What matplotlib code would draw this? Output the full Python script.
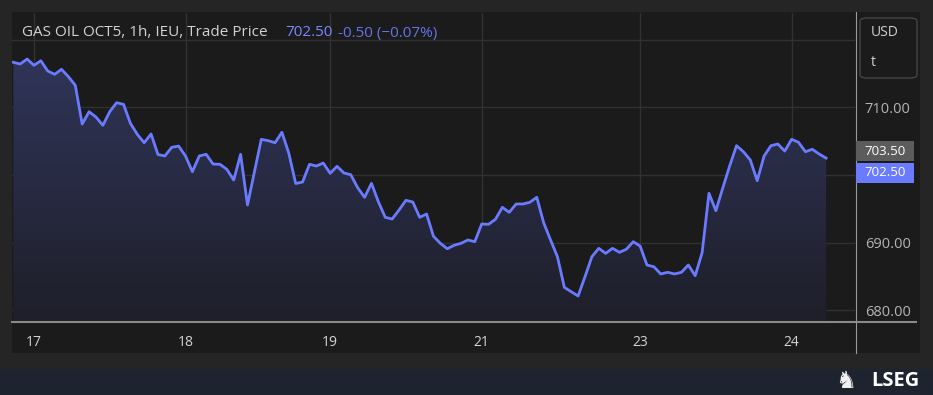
import matplotlib.pyplot as plt
import numpy as np
from matplotlib.patches import Rectangle, FancyBboxPatch
from matplotlib.lines import Line2D
from matplotlib.colors import LinearSegmentedColormap

# hourly trade prices, GAS OIL OCT5
prices = [716.65, 716.40, 717.13, 716.20, 716.88, 715.36, 714.87, 715.61, 714.52, 713.25,
          707.53, 709.35, 708.57, 707.34, 709.35, 710.68, 710.44, 707.64, 706.01, 704.77,
          706.06, 703.03, 702.81, 704.09, 704.28, 702.81, 700.49, 702.81, 703.06, 701.62,
          701.58, 700.84, 699.26, 703.06, 695.57, 700.44, 705.27, 705.07, 704.77, 706.31,
          703.21, 698.74, 698.97, 701.58, 701.33, 701.77, 700.25, 701.29, 700.30, 700.04,
          698.12, 696.71, 698.77, 696.06, 693.75, 693.50, 694.83, 696.26, 696.01, 693.75,
          694.24, 690.95, 689.91, 689.11, 689.62, 689.91, 690.40, 690.15, 692.76, 692.72,
          693.46, 695.23, 694.49, 695.72, 695.72, 695.97, 696.71, 692.95, 690.40, 687.93,
          683.41, 682.76, 682.13, 684.98, 687.93, 689.17, 688.43, 689.17, 688.58, 689.03,
          690.15, 689.51, 686.71, 686.45, 685.38, 685.63, 685.38, 685.63, 686.71, 685.13,
          688.51, 697.30, 694.73, 698.08, 701.33, 704.33, 703.44, 702.22, 699.16, 702.81,
          704.33, 704.58, 703.54, 705.27, 704.83, 703.44, 703.80, 703.10, 702.50]

day_ticks = [3, 25, 46, 68, 91, 113]
day_labels = ["17", "18", "19", "21", "23", "24"]
y_grid = [680, 690, 700, 710, 720]
y_labels = [680, 690, 710]   # 700.00 sits under the price tags
last_price = 702.50
ref_price = 703.50

W, H = 933, 395
fig = plt.figure(figsize=(W / 100, H / 100), dpi=100)
fig.patch.set_facecolor("#252525")
plt.rcParams["font.family"] = ["Open Sans", "DejaVu Sans"]


def fx(px):
    return px / W


def fy(py):
    return 1 - py / H


# panel + bottom band
fig.patches.append(Rectangle((fx(12), fy(353)), fx(908), 341 / H, transform=fig.transFigure,
                             facecolor="#1b1b1b", edgecolor="none", zorder=-5))
fig.patches.append(Rectangle((0, 0), 1, 26 / H, transform=fig.transFigure,
                             facecolor="#1e2330", edgecolor="none", zorder=-5))

ax = fig.add_axes([fx(12), fy(322), fx(843), 309 / H])
ax.set_facecolor("none")
ax.set_zorder(2)

x = np.arange(len(prices))
y = np.array(prices)

# gradient fill under the line
poly = ax.fill_between(x, y, 600, facecolor="none", edgecolor="none")
grad = np.linspace(0, 1, 256).reshape(-1, 1)
cmap = LinearSegmentedColormap.from_list("g", ["#1e1f29", "#30355a"])
img = ax.imshow(grad, cmap=cmap, aspect="auto", origin="lower",
                extent=[x[0] - 1, x[-1], 678.29, 718], zorder=1)
img.set_clip_path(poly.get_paths()[0], transform=ax.transData)
ax.set_xlim(-0.19, 122.2)
ax.set_ylim(678.29, 723.93)

ax.plot(x, y, color="#6b7bff", lw=2.0, zorder=3)

# grid
for t in day_ticks:
    ax.axvline(t, color="#313131", lw=1, zorder=0.5)
for t in y_grid:
    ax.axhline(t, color="#313131", lw=1, zorder=0.5)

for s in ax.spines.values():
    s.set_visible(False)
ax.set_xticks(day_ticks)
ax.set_xticklabels(day_labels)
ax.tick_params(axis="x", length=0, pad=9, colors="#d4d4d4", labelsize=10)
ax.yaxis.tick_right()
ax.set_yticks(y_labels)
ax.set_yticklabels(["%.2f" % v for v in y_labels])
ax.tick_params(axis="y", length=0, pad=7, colors="#b4b4b4", labelsize=10.5)

# axis separators
fig.lines.append(Line2D([fx(855.5), fx(855.5)], [fy(12), fy(353)], transform=fig.transFigure,
                        color="#9a9a9a", lw=0.8, zorder=5))
fig.lines.append(Line2D([fx(12), fx(916)], [fy(322.3), fy(322.3)], transform=fig.transFigure,
                        color="#8a8a8a", lw=1.5, zorder=5))

# unit box
fig.patches.append(FancyBboxPatch((fx(860), fy(78)), fx(57), 60 / H, transform=fig.transFigure,
                                  boxstyle="round,pad=0,rounding_size=0.008",
                                  facecolor="none", edgecolor="#454545", lw=1))
fig.text(fx(871), fy(33), "USD", color="#d0d0d0", fontsize=10, va="center")
fig.text(fx(871), fy(62), "t", color="#d0d0d0", fontsize=10, va="center")

# price tags
fig.canvas.draw()
ref_py = H - ax.transData.transform((0, ref_price))[1]
fig.patches.append(Rectangle((fx(856), fy(ref_py + 10)), fx(58), 20 / H, transform=fig.transFigure,
                             facecolor="#5c5c5c", edgecolor="none", zorder=6))
fig.text(fx(885), fy(ref_py), "%.2f" % ref_price, color="#ffffff", fontsize=9.5,
         ha="center", va="center", zorder=7)
last_py = ref_py + 21.5
fig.patches.append(Rectangle((fx(856), fy(last_py + 10)), fx(58), 20 / H, transform=fig.transFigure,
                             facecolor="#6b7bff", edgecolor="none", zorder=6))
fig.text(fx(885), fy(last_py), "%.2f" % last_price, color="#ffffff", fontsize=9.5,
         ha="center", va="center", zorder=7)

# legend line
fig.text(fx(22), fy(33), "GAS OIL OCT5, 1h, IEU, Trade Price", color="#d2d2d2",
         fontsize=11, va="center")
fig.text(fx(285), fy(33), "%.2f" % last_price, color="#7b88ff", fontsize=11, va="center")
fig.text(fx(338), fy(33), "-0.50 (\u22120.07%)", color="#6674e6", fontsize=11, va="center")

# logo
fig.text(fx(846), fy(381), "\u265e", color="#f0f0f0", fontsize=17, ha="center", va="center",
         family="DejaVu Sans")
fig.text(fx(871), fy(381), "LSEG", color="#ffffff", fontsize=14.5, fontweight="bold",
         va="center")

plt.savefig("out.png", dpi=100, facecolor=fig.get_facecolor())
